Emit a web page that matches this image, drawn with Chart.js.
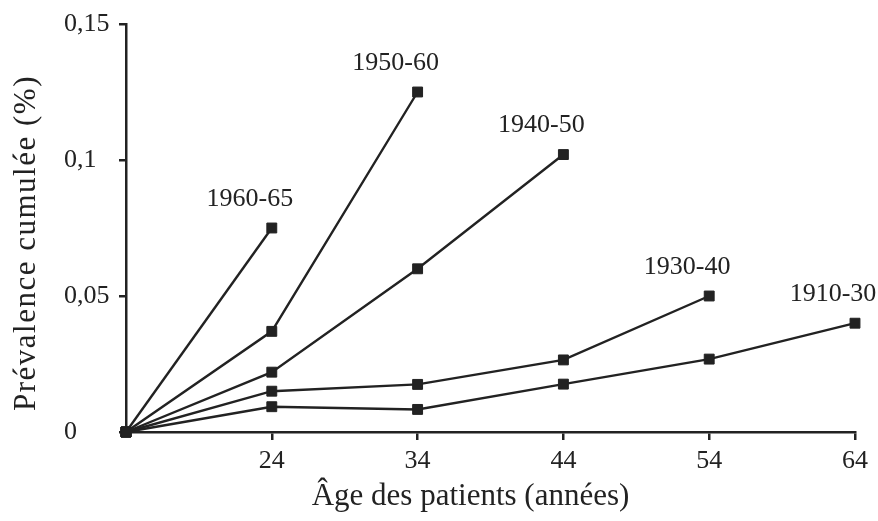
<!DOCTYPE html>
<html>
<head>
<meta charset="utf-8">
<script src="https://cdn.jsdelivr.net/npm/chart.js@4/dist/chart.umd.min.js"></script>
<style>
  html, body { margin: 0; padding: 0; background: #ffffff; }
  canvas { display: block; }
</style>
</head>
<body>
<canvas id="c" width="878" height="521"></canvas>
<script>
// ---- Data ----
const seriesNames = ['1960-65', '1950-60', '1940-50', '1930-40', '1910-30'];
const ages = [14, 24, 34, 44, 54, 64];
const s1960_65 = [0, 0.075];
const s1950_60 = [0, 0.037, 0.125];
const s1940_50 = [0, 0.022, 0.060, 0.102];
const s1930_40 = [0, 0.015, 0.0175, 0.0265, 0.050];
const s1910_30 = [0, 0.0093, 0.0083, 0.0176, 0.0268, 0.040];
const xTickValues = [24, 34, 44, 54, 64];
const yTickValues = [0, 0.05, 0.1, 0.15];
const yTickLabels = ['0', '0,05', '0,1', '0,15'];
const xTitle = 'Âge des patients (années)';
const yTitle = 'Prévalence cumulée (%)';

const INK = '#222222';
const FONT = '"Liberation Serif", "Times New Roman", serif';

const allSeries = [s1960_65, s1950_60, s1940_50, s1930_40, s1910_30];
const datasets = allSeries.map((vals, i) => ({
  label: seriesNames[i],
  data: vals.map((v, j) => ({ x: ages[j], y: v })),
  borderColor: INK,
  backgroundColor: INK,
  borderWidth: 2.4,
  pointStyle: 'rect',
  pointRadius: 7,
  pointBorderWidth: 1,
  pointBorderColor: INK,
  pointBackgroundColor: INK,
  tension: 0,
  clip: false
}));

const labelPlugin = {
  id: 'seriesLabels',
  afterDatasetsDraw(chart) {
    const ctx = chart.ctx;
    ctx.save();
    ctx.fillStyle = INK;
    ctx.font = '26px ' + FONT;
    ctx.textAlign = 'center';
    ctx.textBaseline = 'middle';
    chart.data.datasets.forEach((ds, i) => {
      const meta = chart.getDatasetMeta(i);
      const last = meta.data[meta.data.length - 1];
      ctx.fillText(ds.label, last.x - 22, last.y - 29);
    });
    ctx.restore();
  }
};

const titlePlugin = {
  id: 'axisTitles',
  afterDraw(chart) {
    const ctx = chart.ctx;
    const xs = chart.scales.x, ys = chart.scales.y;
    ctx.save();
    ctx.fillStyle = INK;
    ctx.font = '31px ' + FONT;
    ctx.textAlign = 'center';
    ctx.textBaseline = 'middle';
    ctx.fillText(xTitle, (xs.left + xs.right) / 2 - 20, 497);
    if ('letterSpacing' in ctx) ctx.letterSpacing = '1.5px';
    ctx.translate(27, (ys.top + ys.bottom) / 2 + 15);
    ctx.rotate(-Math.PI / 2);
    ctx.fillText(yTitle, 0, 0);
    ctx.restore();
  }
};

new Chart(document.getElementById('c'), {
  type: 'line',
  data: { datasets },
  plugins: [labelPlugin, titlePlugin],
  options: {
    responsive: false,
    animation: false,
    events: [],
    layout: { padding: { left: 64, right: 23, top: 24, bottom: 0 } },
    plugins: { legend: { display: false }, tooltip: { enabled: false } },
    scales: {
      x: {
        type: 'linear',
        min: ages[0],
        max: ages[ages.length - 1],
        afterBuildTicks: (s) => { s.ticks = xTickValues.map(v => ({ value: v })); },
        afterFit: (s) => { s.height = 89; },
        border: { display: true, color: INK, width: 2.5 },
        grid: { display: true, drawOnChartArea: false, drawTicks: true, tickLength: 8, color: INK, lineWidth: 2.5 },
        ticks: { color: INK, font: { family: FONT, size: 26 }, padding: 6, maxRotation: 0,
                 callback: (v) => String(v) }
      },
      y: {
        type: 'linear',
        min: 0,
        max: 0.15,
        afterBuildTicks: (s) => { s.ticks = yTickValues.map(v => ({ value: v })); },
        afterFit: (s) => { s.width = 62; },
        border: { display: true, color: INK, width: 2.5 },
        grid: { display: true, drawOnChartArea: false, drawTicks: true, tickLength: 7, color: INK, lineWidth: 2.5 },
        ticks: { color: INK, font: { family: FONT, size: 26 }, padding: 6, crossAlign: 'far',
                 callback: (v) => { const k = yTickValues.findIndex(t => Math.abs(t - v) < 1e-9); return k >= 0 ? yTickLabels[k] : ''; } }
      }
    }
  }
});
</script>
</body>
</html>
